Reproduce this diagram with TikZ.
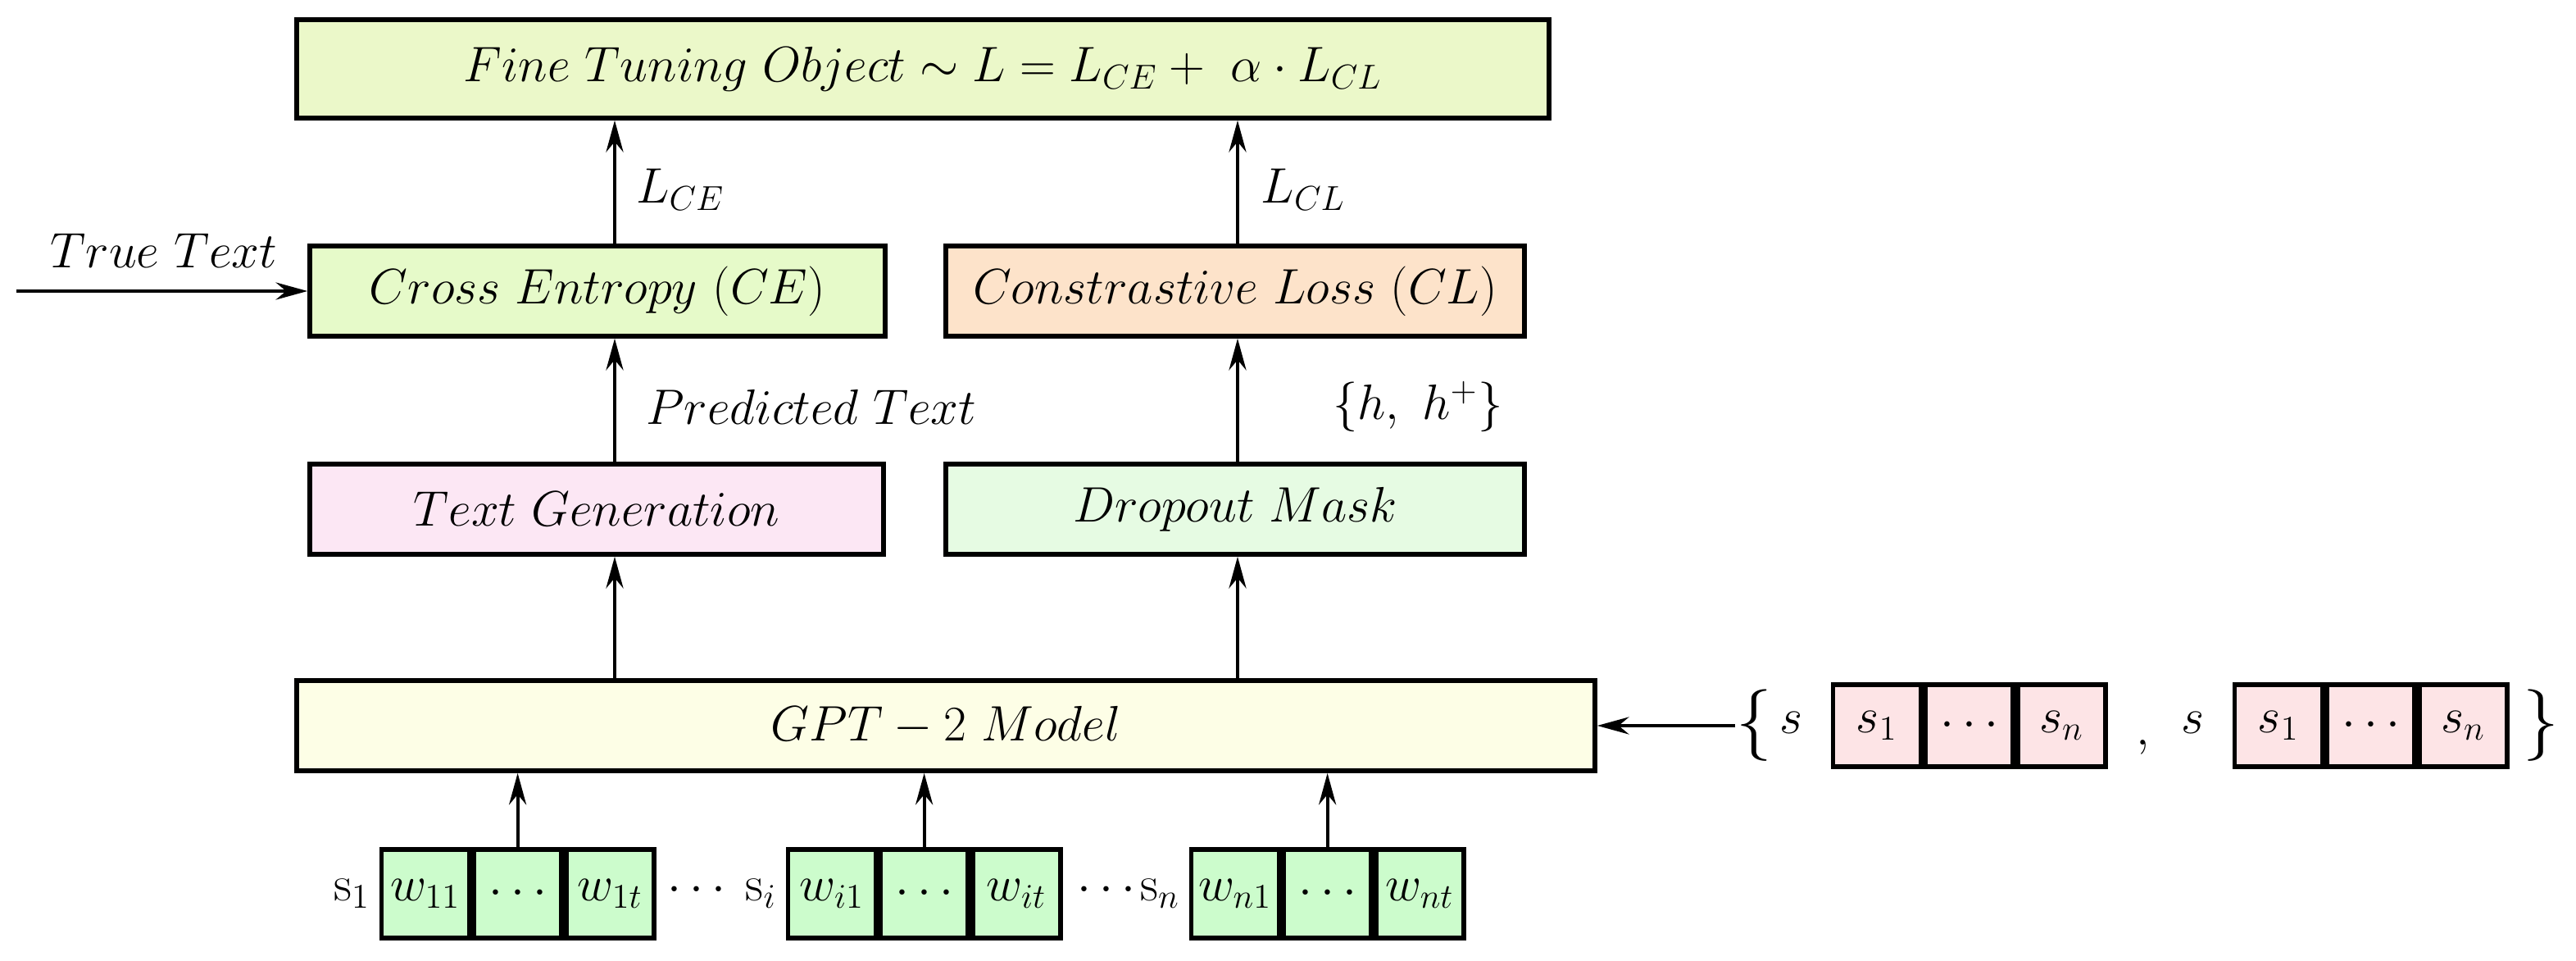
\documentclass[tikz,border=0pt]{standalone}
\usetikzlibrary{arrows.meta,positioning}
\definecolor{cTop}{HTML}{EBF8C9}
\definecolor{cCE}{HTML}{E6FAC9}
\definecolor{cCL}{HTML}{FDE3CA}
\definecolor{cTG}{HTML}{FCE7F4}
\definecolor{cDM}{HTML}{E6FBE3}
\definecolor{cGPT}{HTML}{FDFEE6}
\definecolor{cPink}{HTML}{FDE4E6}
\definecolor{cGreen}{HTML}{CCFCCC}
\begin{document}
\begin{tikzpicture}[
  font=\fontsize{17}{20}\selectfont,
  box/.style={draw=black, line width=1.6pt, minimum height=1.1cm, inner sep=0pt},
  cell/.style={draw=black, line width=1.6pt, minimum width=1.07cm, minimum height=1.08cm, inner sep=0pt},
  arr/.style={line width=1.1pt, -{Stealth[length=11pt,width=6pt]}},
  lbl/.style={inner sep=0pt}
]
\useasboundingbox (0,0) rectangle (31.43,11.71);

% main boxes
\node[box, fill=cTop, minimum width=15.28cm, minimum height=1.2cm] (top) at (11.26,10.87)
  {$Fine\ Tuning\ Object \sim L = L_{CE} +\ \alpha\cdot L_{CL}$};
\node[box, fill=cCE, minimum width=7.02cm] (ce) at (7.29,8.16) {$Cross\ Entropy\ (CE)$};
\node[box, fill=cCL, minimum width=7.06cm] (cl) at (15.07,8.16) {$Constrastive\ Loss\ (CL)$};
\node[box, fill=cTG, minimum width=7.0cm] (tg) at (7.28,5.50) {$Text\ Generation$};
\node[box, fill=cDM, minimum width=7.06cm] (dm) at (15.07,5.50) {$Dropout\ Mask$};
\node[box, fill=cGPT, minimum width=15.84cm] (gpt) at (11.54,2.86) {$GPT-2\ Model$};

\coordinate (axl) at (7.5,0);
\coordinate (axr) at (15.1,0);

% vertical connectors
\draw[arr] (tg.north -| axl) -- (ce.south -| axl);
\draw[arr] (ce.north -| axl) -- (top.south -| axl);
\draw[arr] (dm.north -| axr) -- (cl.south -| axr);
\draw[arr] (cl.north -| axr) -- (top.south -| axr);
\draw[arr] (gpt.north -| axl) -- (tg.south -| axl);
\draw[arr] (gpt.north -| axr) -- (dm.south -| axr);

% labels
\node[lbl] (lce) at (8.3,9.4) {$L_{CE}$};
\node[lbl] (lcl) at (15.9,9.4) {$L_{CL}$};
\node[lbl] (pt) at (9.9,6.75) {$Predicted\ Text$};
\node[lbl] (hh) at (17.3,6.75) {$\{h,\ h^{+}\}$};
\node[lbl] (tt) at (2.0,8.65) {$True\ Text$};
\coordinate (ttin) at (0.2,8.16);
\draw[arr] (ttin) -- (ce.west);

% bottom sentences
\foreach \n/\x/\lab/\wa/\wb in {a/5.19/1/{11}/{1t}, b/10.15/i/{i1}/{it}, c/15.07/n/{n1}/{nt}} {
  \node[cell, fill=cGreen] (\n1) at (\x,0.81) {$w_{\wa}$};
  \node[cell, fill=cGreen, right=0pt of \n1] (\n2) {$\cdots$};
  \node[cell, fill=cGreen, right=0pt of \n2] (\n3) {$w_{\wb}$};
  \node[lbl, left=3pt of \n1] (\n0) {$\mathrm{s}_{\lab}$};
  \draw[arr] (\n2.north) -- (\n2.north |- gpt.south);
}
\node[lbl] (d1) at (8.5,0.85) {$\cdots$};
\node[lbl] (d2) at (13.5,0.85) {$\cdots$};

% right input set
\node[lbl] (lb) at (21.4,2.86) {\fontsize{26}{30}\selectfont$\{$};
\draw[arr] (lb.west) -- (gpt.east);
\node[lbl] (s1) at (21.85,2.9) {$s$};
\node[cell, fill=cPink, minimum height=1.0cm] (p1) at (22.90,2.86) {$s_1$};
\node[cell, fill=cPink, minimum height=1.0cm, right=0pt of p1] (p2) {$\cdots$};
\node[cell, fill=cPink, minimum height=1.0cm, right=0pt of p2] (p3) {$s_n$};
\node[lbl] (cm) at (26.15,2.6) {$,$};
\node[lbl] (s2) at (26.75,2.9) {$s$};
\node[cell, fill=cPink, minimum height=1.0cm] (q1) at (27.80,2.86) {$s_1$};
\node[cell, fill=cPink, minimum height=1.0cm, right=0pt of q1] (q2) {$\cdots$};
\node[cell, fill=cPink, minimum height=1.0cm, right=0pt of q2] (q3) {$s_n$};
\node[lbl] (rb) at (31.0,2.86) {\fontsize{26}{30}\selectfont$\}$};
\end{tikzpicture}
\end{document}
